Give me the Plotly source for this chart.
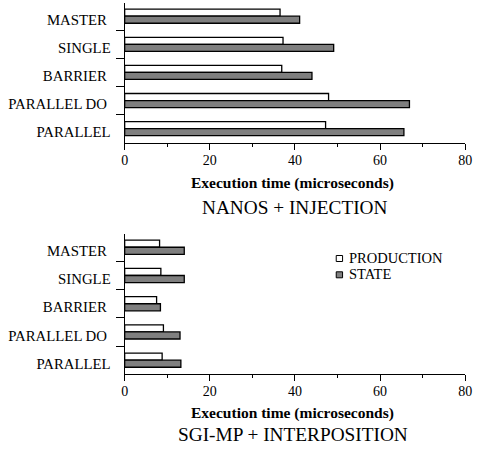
import plotly.graph_objects as go

# Constructs, listed top to bottom
constructs = ["MASTER ", "SINGLE", "BARRIER ", "PARALLEL DO ", "PARALLEL"]

# NANOS + INJECTION (microseconds)
nanos_production = [36.5, 37.2, 36.9, 47.9, 47.2]
nanos_state = [41.1, 49.1, 44.0, 66.9, 65.6]

# SGI-MP + INTERPOSITION (microseconds)
sgi_production = [8.2, 8.5, 7.5, 9.1, 8.8]
sgi_state = [14.0, 14.0, 8.4, 13.0, 13.2]

series_names = ["PRODUCTION", "STATE"]
x_ticks = [0, 20, 40, 60, 80]

W, H = 481, 452
FONT = "Liberation Serif, Times New Roman, serif"
GRAY = "#7f7f7f"
fills = ["white", GRAY]

fig = go.Figure()

panels = [
    (nanos_production, nanos_state, "x", "y", "y3"),
    (sgi_production, sgi_state, "x2", "y2", "y4"),
]
for prod, state, xa, ya, label_ya in panels:
    for name, vals, fill in zip(series_names, [prod, state], fills):
        fig.add_trace(go.Bar(
            name=name, y=constructs, x=vals, orientation="h",
            marker=dict(color=fill, line=dict(color="black", width=1.3)),
            xaxis=xa, yaxis=ya, showlegend=False,
        ))
    # empty trace so the label-only axis gets drawn
    fig.add_trace(go.Scatter(
        x=[None], y=[None], mode="markers", xaxis=xa, yaxis=label_ya,
        showlegend=False, hoverinfo="skip",
    ))

x_dom = [123.5 / W, 472 / W]
top_dom = [1 - 142.7 / H, 1 - 3 / H]
bot_dom = [1 - 374.3 / H, 1 - 234 / H]

Y_RANGE = [4.5, -0.47]
LABEL_SHIFT = -0.12  # tick labels sit a little below the bar groups

xaxis_common = dict(
    range=[0, 80], tickvals=x_ticks, ticks="outside", ticklen=6, tickwidth=1,
    tickcolor="black", showline=True, linecolor="black", linewidth=1,
    showgrid=False, zeroline=False, ticklabelstandoff=-2,
    minor=dict(dtick=10, ticks="outside", ticklen=3, tickcolor="black", showgrid=False),
    tickfont=dict(family=FONT, size=14, color="black"),
)
yaxis_common = dict(
    type="category", categoryorder="array", categoryarray=constructs,
    range=Y_RANGE, tickson="boundaries", ticks="outside", ticklen=8,
    tickcolor="black", tickwidth=1, showline=True, linecolor="black", linewidth=1,
    showgrid=False, zeroline=False, showticklabels=False,
)
# label-only axes laid over the category axes
label_axis = dict(
    type="linear", range=[Y_RANGE[0] + LABEL_SHIFT, Y_RANGE[1] + LABEL_SHIFT],
    tickvals=list(range(len(constructs))), ticktext=constructs,
    ticks="", showline=False, showgrid=False, zeroline=False,
    ticklabelstandoff=13, side="left",
    tickfont=dict(family=FONT, size=14.8, color="black"),
)

fig.update_layout(
    width=W, height=H,
    margin=dict(l=0, r=0, t=0, b=0),
    paper_bgcolor="white", plot_bgcolor="rgba(0,0,0,0)",
    barmode="group", bargap=0.5, bargroupgap=0.0,
    xaxis=dict(domain=x_dom, anchor="y", **xaxis_common),
    yaxis=dict(domain=top_dom, anchor="x", **yaxis_common),
    xaxis2=dict(domain=x_dom, anchor="y2", **xaxis_common),
    yaxis2=dict(domain=bot_dom, anchor="x2", **yaxis_common),
    yaxis3=dict(anchor="x", overlaying="y", **label_axis),
    yaxis4=dict(anchor="x2", overlaying="y2", **label_axis),
    showlegend=False,
    font=dict(family=FONT, color="black"),
)

titles = [
    (182.5, "<b>Execution time (microseconds)</b>", 15.5, 295.5),
    (207.5, "NANOS + INJECTION", 19.3, 298),
    (412.5, "<b>Execution time (microseconds)</b>", 15.5, 295.5),
    (434, "SGI-MP + INTERPOSITION", 19.3, 296),
]
for ypix, text, size, xpix in titles:
    fig.add_annotation(
        x=xpix / W, y=1 - ypix / H, xref="paper", yref="paper",
        text=text, showarrow=False, xanchor="center", yanchor="middle",
        font=dict(family=FONT, size=size, color="black"),
    )

# legend key: small outlined squares with labels
legend_rows = [258.5, 274.8]
for name, fill, yc in zip(series_names, fills, legend_rows):
    fig.add_shape(
        type="rect", xref="paper", yref="paper",
        x0=340 / W, x1=346.5 / W, y0=1 - (yc + 3) / H, y1=1 - (yc - 3) / H,
        fillcolor=fill, line=dict(color="black", width=1),
    )
    fig.add_annotation(
        x=351.5 / W, y=1 - (yc - 0.8) / H, xref="paper", yref="paper",
        text=name, showarrow=False, xanchor="left", yanchor="middle",
        font=dict(family=FONT, size=14.5, color="black"),
    )

fig.write_html("out.html")
